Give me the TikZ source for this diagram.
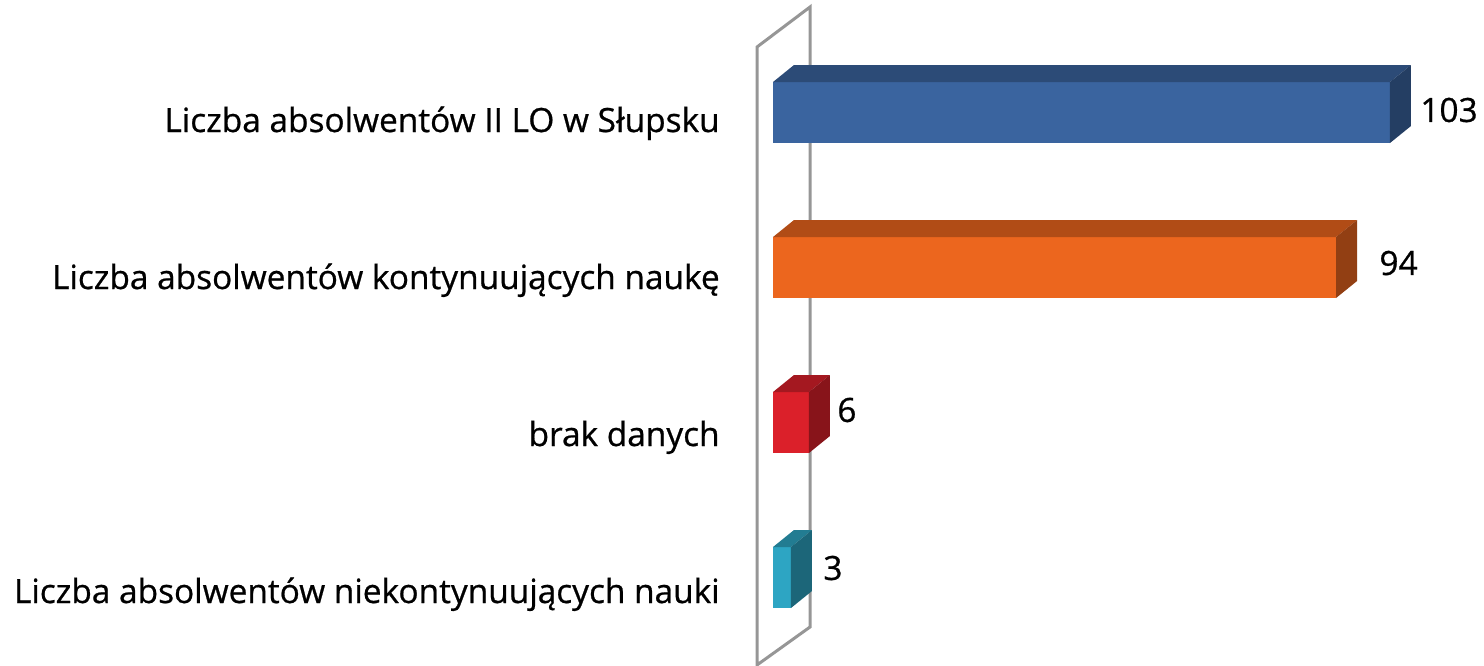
\documentclass[tikz,border=0pt]{standalone}
\usepackage{fontspec}
\setmainfont{Open Sans}
\newfontfamily\chartfont{Open Sans}[FakeBold=0.7]
\usetikzlibrary{positioning}
\definecolor{barblue}{RGB}{58,100,159}
\definecolor{barorange}{RGB}{236,102,30}
\definecolor{barred}{RGB}{219,32,42}
\definecolor{barteal}{RGB}{45,165,195}
\definecolor{wallgray}{RGB}{150,150,150}

\begin{document}
\begin{tikzpicture}[
    x=0.5pt, y=-0.5pt,
    wall/.style={draw=wallgray, line width=1.5pt},
    catlabel/.style={anchor=base east, inner sep=0pt, font=\chartfont\fontsize{16.7}{20}\selectfont},
    vallabel/.style={anchor=west, inner sep=0pt, font=\chartfont\fontsize{16.7}{20}\selectfont}
]
    \useasboundingbox (0,0) rectangle (1484,665);

    % Axis wall behind the bars
    \draw[wall] (757,665) -- (757,47) -- (810,7) -- (810,627) -- cycle;

    % Bars: front, top and side faces, value and category labels
    \foreach \val/\col/\gap/\dy/\txt [count=\i from 0] in {
        103/barblue/9/28/{Liczba absolwentów II LO w Słupsku},
        94/barorange/22/26/{Liczba absolwentów kontynuujących naukę},
        6/barred/7/18/{brak danych},
        3/barteal/11/21/{Liczba absolwentów niekontynuujących nauki}}
    {
        \pgfmathsetmacro{\ytop}{82+155*\i}
        \pgfmathsetmacro{\xend}{773+5.99*\val}
        \fill[\col] (773,\ytop) rectangle (\xend,\ytop+61);
        \fill[\col!75!black] (773,\ytop) -- ++(21,-17) -- (\xend+21,\ytop-17) -- (\xend,\ytop) -- cycle;
        \fill[\col!62!black] (\xend,\ytop) -- ++(21,-17) -- ++(0,61) -- (\xend,\ytop+61) -- cycle;
        \node[vallabel] (val\i) at (\xend+21+\gap,\ytop+\dy) {\val};
        \node[catlabel] (cat\i) at (720,\ytop+50+2*\i) {\txt};
    }
\end{tikzpicture}
\end{document}
